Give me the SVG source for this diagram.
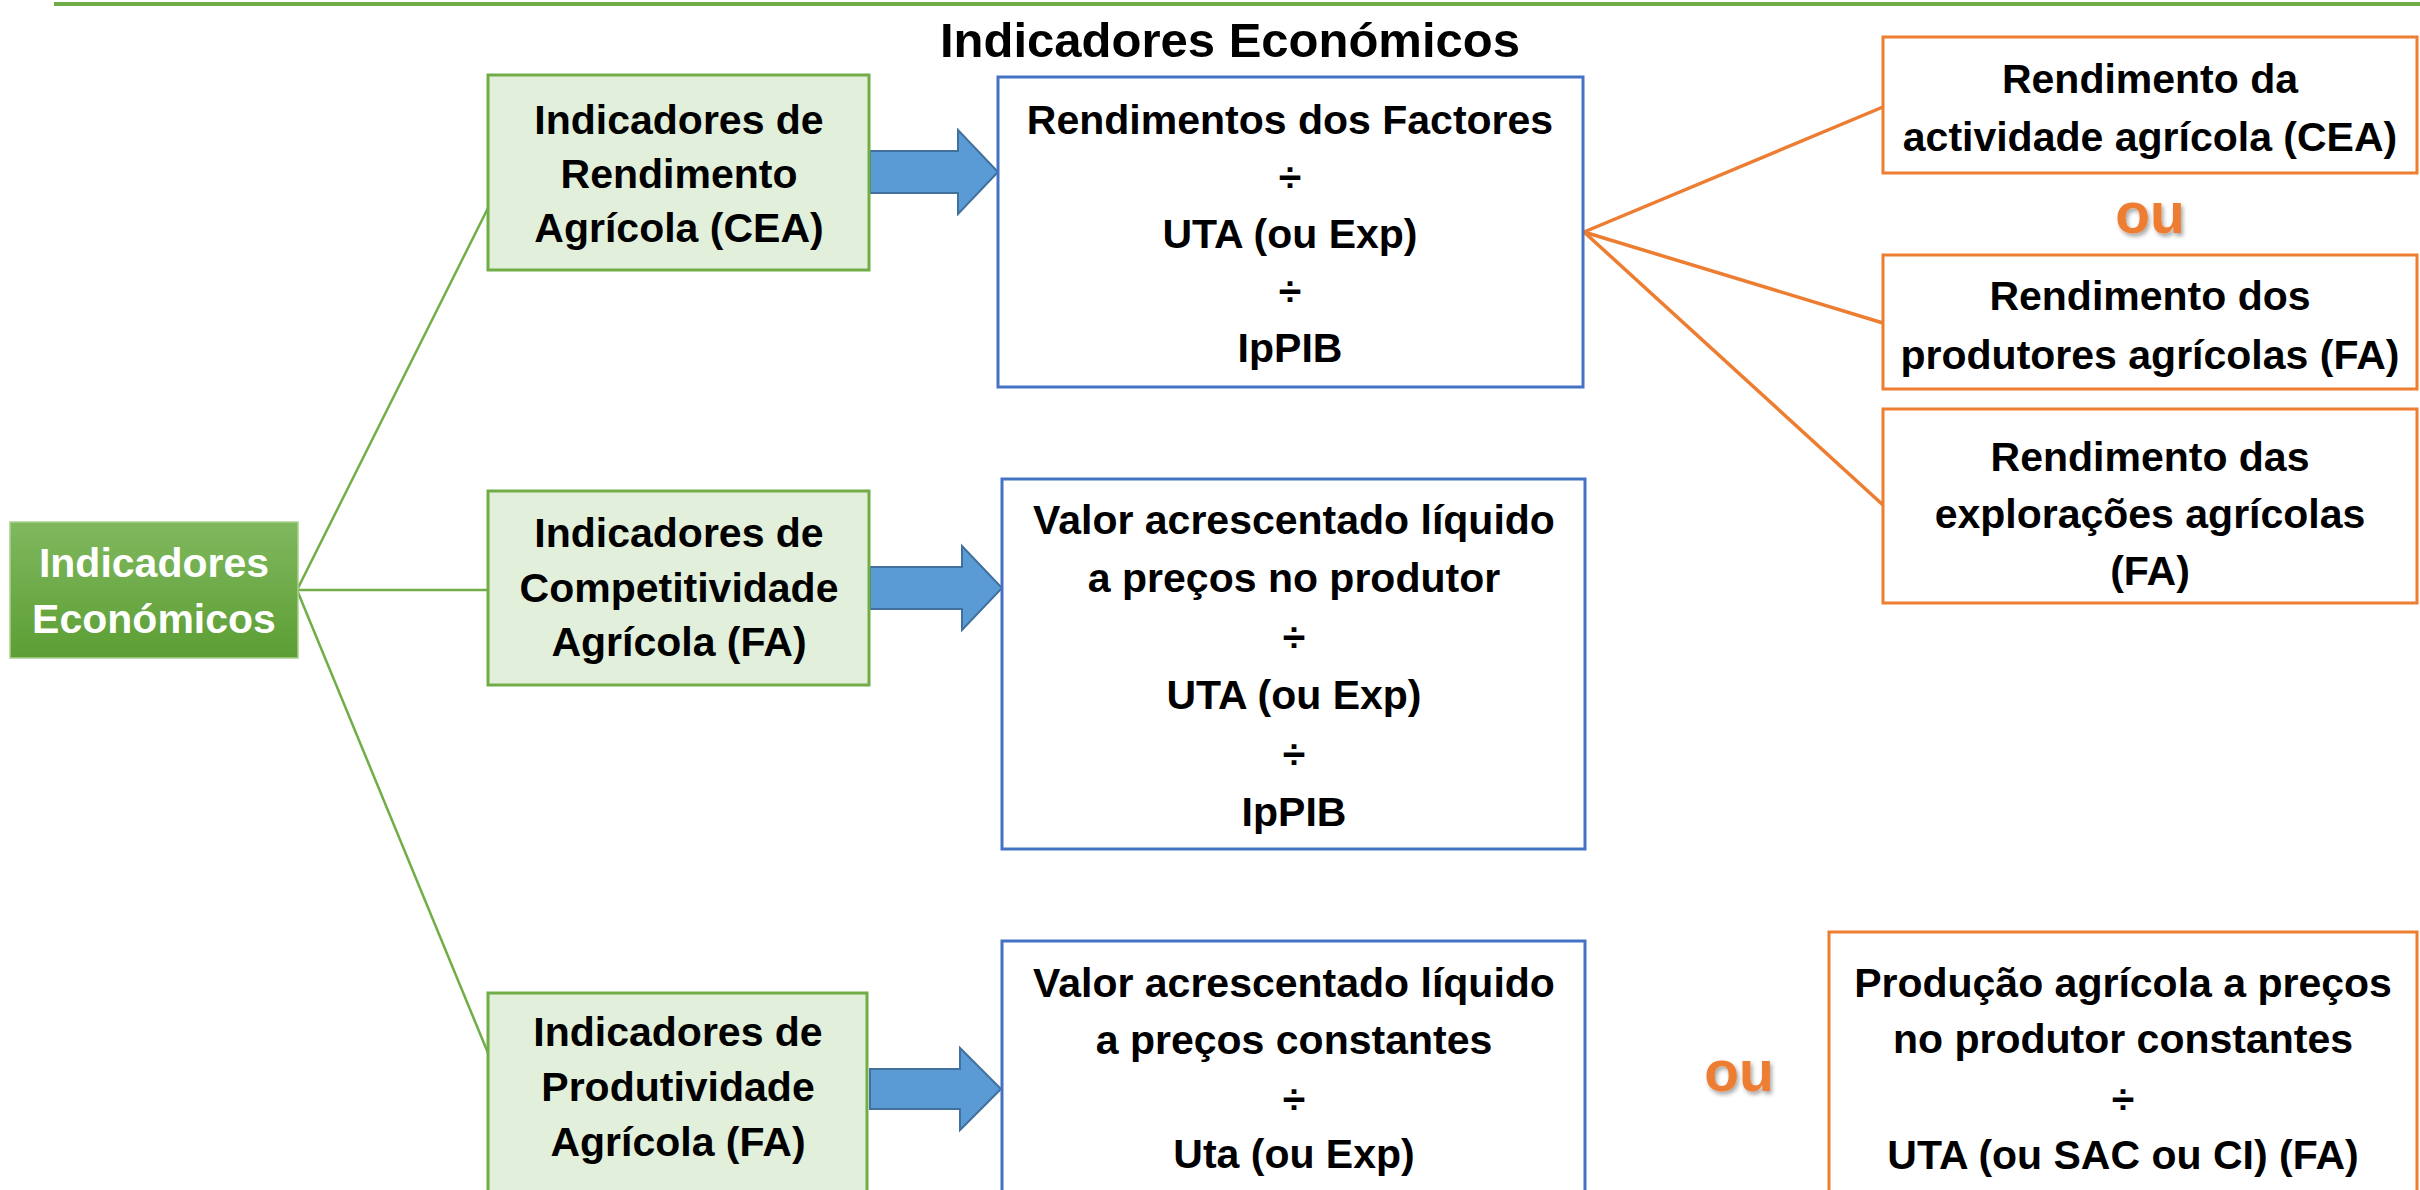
<svg xmlns="http://www.w3.org/2000/svg" width="2420" height="1190" viewBox="0 0 2420 1190">
<defs>
<linearGradient id="rootGrad" x1="0" y1="0" x2="0" y2="1">
<stop offset="0" stop-color="#80B85E"/>
<stop offset="1" stop-color="#5C9E34"/>
</linearGradient>
<filter id="shadow" x="-20%" y="-20%" width="150%" height="150%">
<feDropShadow dx="2" dy="3" stdDeviation="2" flood-color="#000" flood-opacity="0.35"/>
</filter>
</defs>
<style>
text{font-family:"Liberation Sans",Arial,sans-serif;font-weight:bold;font-size:41px;fill:#000;text-anchor:middle}
.title{font-size:49px}
.white{fill:#fff}
.ou{font-size:57px;fill:#ED7D31}
.gbox{fill:#E2EFDA;stroke:#70AD47;stroke-width:3}
.bbox{fill:#fff;stroke:#4472C4;stroke-width:3}
.obox{fill:#fff;stroke:#ED7D31;stroke-width:3}
.arrow{fill:#5B9BD5;stroke:#41719C;stroke-width:2}
.gline{stroke:#70AD47;stroke-width:2.5;fill:none}
.oline{stroke:#ED7D31;stroke-width:3.5;fill:none}
</style>
<rect width="2420" height="1190" fill="#fff"/>
<line x1="54" y1="4" x2="2420" y2="4" stroke="#70AD47" stroke-width="4"/>
<text class="title" x="1230" y="57">Indicadores Económicos</text>

<g id="connectors">
<line class="gline" x1="297" y1="590" x2="488" y2="208"/>
<line class="gline" x1="297" y1="590" x2="488" y2="590"/>
<line class="gline" x1="297" y1="590" x2="488" y2="1053"/>
<path class="arrow" d="M870,151 H958 V130 L998,172 L958,214 V193 H870 Z"/>
<path class="arrow" d="M870,567 H962 V546 L1002,588 L962,630 V609 H870 Z"/>
<path class="arrow" d="M870,1069 H960 V1048 L1001,1089 L960,1130 V1109 H870 Z"/>
<line class="oline" x1="1584" y1="232" x2="1883" y2="107"/>
<line class="oline" x1="1584" y1="232" x2="1883" y2="323"/>
<line class="oline" x1="1584" y1="232" x2="1883" y2="505"/>
</g>

<g id="root">
<rect x="10" y="522" width="288" height="136" fill="url(#rootGrad)" stroke="#A9D18E" stroke-width="1.5"/>
<text class="white" x="154" y="577">Indicadores</text>
<text class="white" x="154" y="633">Económicos</text>
</g>

<g id="g1">
<rect class="gbox" x="488" y="75" width="381" height="195"/>
<text x="679" y="134">Indicadores de</text>
<text x="679" y="188">Rendimento</text>
<text x="679" y="242">Agrícola (CEA)</text>
</g>
<g id="g2">
<rect class="gbox" x="488" y="491" width="381" height="194"/>
<text x="679" y="547">Indicadores de</text>
<text x="679" y="602">Competitividade</text>
<text x="679" y="656">Agrícola (FA)</text>
</g>
<g id="g3">
<rect class="gbox" x="488" y="993" width="379" height="205"/>
<text x="678" y="1046">Indicadores de</text>
<text x="678" y="1101">Produtividade</text>
<text x="678" y="1156">Agrícola (FA)</text>
</g>

<g id="b1">
<rect class="bbox" x="998" y="77" width="585" height="310"/>
<text x="1290" y="134">Rendimentos dos Factores</text>
<text x="1290" y="191">÷</text>
<text x="1290" y="248">UTA (ou Exp)</text>
<text x="1290" y="305">÷</text>
<text x="1290" y="362">IpPIB</text>
</g>
<g id="b2">
<rect class="bbox" x="1002" y="479" width="583" height="370"/>
<text x="1294" y="534">Valor acrescentado líquido</text>
<text x="1294" y="592">a preços no produtor</text>
<text x="1294" y="651">÷</text>
<text x="1294" y="709">UTA (ou Exp)</text>
<text x="1294" y="768">÷</text>
<text x="1294" y="826">IpPIB</text>
</g>
<g id="b3">
<rect class="bbox" x="1002" y="941" width="583" height="260"/>
<text x="1294" y="997">Valor acrescentado líquido</text>
<text x="1294" y="1054">a preços constantes</text>
<text x="1294" y="1113">÷</text>
<text x="1294" y="1168">Uta (ou Exp)</text>
</g>

<g id="oA">
<rect class="obox" x="1883" y="37" width="534" height="136"/>
<text x="2150" y="93">Rendimento da</text>
<text x="2150" y="151">actividade agrícola (CEA)</text>
</g>
<text class="ou" x="2150" y="233" filter="url(#shadow)">ou</text>
<g id="oB">
<rect class="obox" x="1883" y="255" width="534" height="134"/>
<text x="2150" y="310">Rendimento dos</text>
<text x="2150" y="369">produtores agrícolas (FA)</text>
</g>
<g id="oC">
<rect class="obox" x="1883" y="409" width="534" height="194"/>
<text x="2150" y="471">Rendimento das</text>
<text x="2150" y="528">explorações agrícolas</text>
<text x="2150" y="585">(FA)</text>
</g>

<text class="ou" x="1739" y="1091" filter="url(#shadow)">ou</text>
<g id="oD">
<rect class="obox" x="1829" y="932" width="588" height="270"/>
<text x="2123" y="997">Produção agrícola a preços</text>
<text x="2123" y="1053">no produtor constantes</text>
<text x="2123" y="1113">÷</text>
<text x="2123" y="1169">UTA (ou SAC ou CI) (FA)</text>
</g>
</svg>
